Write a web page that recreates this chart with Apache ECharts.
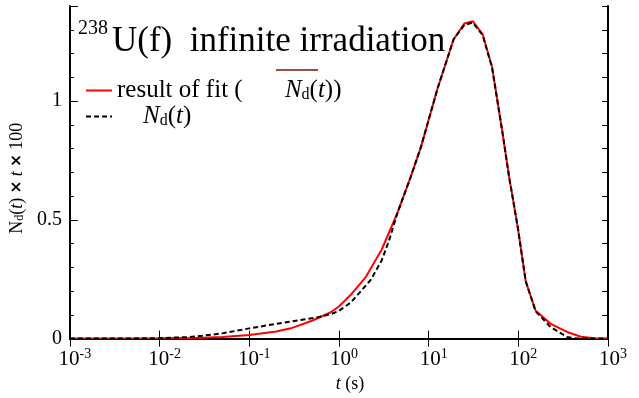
<!DOCTYPE html>
<html>
<head>
<meta charset="utf-8">
<script src="https://cdn.jsdelivr.net/npm/echarts@6/dist/echarts.min.js"></script>
<style>
  html, body { margin: 0; padding: 0; background: #fff; }
  #chart { width: 639px; height: 398px; }
</style>
</head>
<body>
<div id="chart"></div>
<script>
// result of fit (red solid)
const fitT = [0.001, 0.003, 0.01, 0.02, 0.03, 0.05, 0.1, 0.2, 0.3, 0.5, 0.8, 1.0, 1.4, 2.0, 3.0, 4.5, 6.3, 8.2, 12.6, 19, 25, 31, 40, 51, 66, 79, 98, 121, 156, 230, 350, 500, 700, 1000];
const fitY = [0, 0, 0.001, 0.002, 0.004, 0.007, 0.015, 0.03, 0.045, 0.075, 0.110, 0.135, 0.19, 0.26, 0.375, 0.53, 0.68, 0.806, 1.054, 1.26, 1.326, 1.336, 1.281, 1.143, 0.876, 0.68, 0.475, 0.241, 0.117, 0.062, 0.028, 0.008, 0.001, 0];

// N_d(t) data (black dashed)
const dataT = [0.001, 0.003, 0.01, 0.02, 0.03, 0.05, 0.1, 0.2, 0.3, 0.58, 0.8, 1.0, 1.36, 2.27, 3.0, 3.6, 4.5, 6.3, 8.2, 12.6, 19, 25, 31, 40, 51, 66, 79, 98, 121, 156, 230, 350, 450, 1000];
const dataY = [0, 0, 0.002, 0.006, 0.012, 0.022, 0.043, 0.062, 0.073, 0.09, 0.102, 0.117, 0.152, 0.248, 0.33, 0.41, 0.53, 0.68, 0.806, 1.054, 1.26, 1.32, 1.33, 1.278, 1.14, 0.876, 0.68, 0.475, 0.241, 0.115, 0.048, 0.007, 0, 0];

const yLabels = [0, 0.5, 1];

const FONT = '"Liberation Serif", "DejaVu Serif", serif';

const chart = echarts.init(document.getElementById('chart'));

// 左右兩側的刻度軸 (主刻度 0.5、次刻度 0.1)
const sideAxis = (pos, interval, len, withLabels, withLine) => ({
  type: 'value',
  position: pos,
  min: 0,
  max: 1.4,
  interval: interval,
  offset: 0,
  axisLine: { show: withLine, lineStyle: { color: '#000', width: 2 } },
  axisTick: { show: true, inside: true, length: len, lineStyle: { color: '#000', width: 1 } },
  axisLabel: {
    show: withLabels,
    margin: 8,
    color: '#000',
    fontFamily: FONT,
    fontSize: 20,
    formatter: (v) => (yLabels.some((l) => Math.abs(l - v) < 1e-6) ? String(v) : '')
  },
  splitLine: { show: false }
});

const expLabel = (v) => '{b|10}{e|' + Math.round(Math.log10(v)) + '}';

const option = {
  backgroundColor: '#fff',
  animation: false,
  grid: { left: 69, right: 31, top: 6, bottom: 53 },
  xAxis: [
    {
      type: 'log',
      logBase: 10,
      min: 0.001,
      max: 1000,
      position: 'bottom',
      axisLine: { lineStyle: { color: '#000', width: 2 } },
      axisTick: { inside: true, length: 8, lineStyle: { color: '#000', width: 1 } },
      axisLabel: {
        margin: 9,
        color: '#000',
        padding: [0, 0, 0, 10],
        formatter: expLabel,
        rich: {
          b: { fontFamily: FONT, fontSize: 21, color: '#000' },
          e: { fontFamily: FONT, fontSize: 14, color: '#000', verticalAlign: 'top', padding: [0, 0, 10, 0] }
        }
      },
      splitLine: { show: false },
      minorTick: { show: false },
      name: '{i|t}{p| (s)}',
      nameLocation: 'middle',
      nameGap: 35,
      nameTextStyle: {
        padding: [0, 0, 0, 22],
        rich: {
          i: { fontFamily: FONT, fontSize: 18, fontStyle: 'italic', color: '#000' },
          p: { fontFamily: FONT, fontSize: 18, color: '#000' }
        }
      }
    },
    {
      type: 'log',
      logBase: 10,
      min: 0.001,
      max: 1000,
      position: 'top',
      axisLine: { lineStyle: { color: '#000', width: 1.5 } },
      axisTick: { inside: true, length: 8, lineStyle: { color: '#000', width: 1 } },
      axisLabel: { show: false },
      splitLine: { show: false }
    }
  ],
  yAxis: [
    Object.assign(sideAxis('left', 0.5, 8, true, true), {
      name: '{n|N}{s|d}{p|(}{i|t}{p|) }{x|×}{i| t }{x|×}{p| 100}',
      nameLocation: 'middle',
      nameRotate: 90,
      nameGap: 34,
      nameTextStyle: {
        padding: [0, 12, 0, 0],
        rich: {
          n: { fontFamily: FONT, fontSize: 18, color: '#000' },
          s: { fontFamily: FONT, fontSize: 12, color: '#000', verticalAlign: 'bottom', padding: [6, 0, 0, 0] },
          p: { fontFamily: FONT, fontSize: 18, color: '#000' },
          i: { fontFamily: FONT, fontSize: 18, fontStyle: 'italic', color: '#000' },
          x: { fontFamily: '"DejaVu Sans", sans-serif', fontSize: 15, fontWeight: 'bold', color: '#000' }
        }
      }
    }),
    sideAxis('left', 0.1, 4, false, false),
    sideAxis('right', 0.1, 6, false, true)
  ],
  legend: {
    orient: 'vertical',
    left: 80,
    top: 73,
    itemWidth: 26,
    itemHeight: 14,
    itemGap: 1,
    itemStyle: { opacity: 0 },
    data: ['fit', 'data'],
    formatter: (name) => name === 'fit'
      ? '{p|result of fit ( }{n|N}{s|d}{p|(}{i|t}{p|))}'
      : '{n2|N}{s|d}{p|(}{i|t}{p|)}',
    textStyle: {
      color: '#000',
      rich: {
        p: { fontFamily: FONT, fontSize: 25, color: '#000' },
        n: { fontFamily: FONT, fontSize: 25, fontStyle: 'italic', color: '#000', padding: [0, 0, 0, 36] },
        n2: { fontFamily: FONT, fontSize: 25, fontStyle: 'italic', color: '#000', padding: [0, 0, 0, 26] },
        i: { fontFamily: FONT, fontSize: 25, fontStyle: 'italic', color: '#000' },
        s: { fontFamily: FONT, fontSize: 16, color: '#000', verticalAlign: 'bottom', padding: [9, 0, 0, 0] }
      }
    }
  },
  graphic: [
    {
      type: 'text',
      left: 78,
      top: 19,
      style: { text: '238', font: '20px ' + FONT, fill: '#000' }
    },
    {
      type: 'text',
      left: 112,
      top: 24,
      style: { text: 'U(f)  infinite irradiation', font: '35px ' + FONT, fill: '#000' }
    },
    {
      type: 'line',
      shape: { x1: 276, y1: 70, x2: 318, y2: 70 },
      style: { stroke: '#7a1010', lineWidth: 1.5 }
    }
  ],
  series: [
    {
      name: 'fit',
      type: 'line',
      xAxisIndex: 0,
      yAxisIndex: 0,
      symbol: 'none',
      data: fitT.map((t, i) => [t, fitY[i]]),
      lineStyle: { color: '#ff0000', width: 2 },
      itemStyle: { color: '#ff0000' },
      z: 2
    },
    {
      name: 'data',
      type: 'line',
      xAxisIndex: 0,
      yAxisIndex: 0,
      symbol: 'none',
      data: dataT.map((t, i) => [t, dataY[i]]),
      lineStyle: { color: '#000', width: 2, type: [5, 3] },
      itemStyle: { color: '#000' },
      z: 3
    }
  ]
};

chart.setOption(option);
</script>
</body>
</html>
